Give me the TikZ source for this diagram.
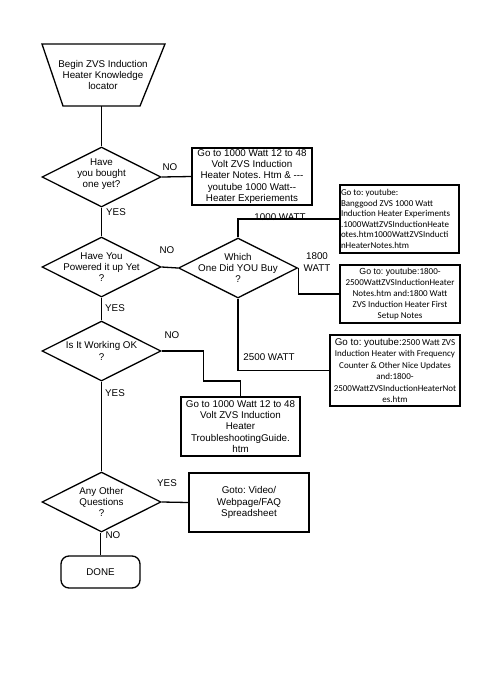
\documentclass[tikz,border=0pt]{standalone}
\usepackage{fontspec}
\setmainfont{Liberation Sans}
\newfontfamily\calfont{Carlito}
\usetikzlibrary{shapes.geometric}

\begin{document}
\frenchspacing
\begin{tikzpicture}[x=1pt, y=-1pt, line width=1.3pt,
  font=\fontsize{9.8}{11.2}\selectfont,
  decision/.style={diamond, draw, minimum width=119pt, minimum height=60pt, inner sep=0pt},
  qtext/.style={align=center, inner sep=0pt},
  infobox/.style={rectangle, draw, align=center, inner sep=1pt},
  lbl/.style={inner sep=0pt}]

\useasboundingbox[fill=white] (0,0) rectangle (500,688);

% start
\draw (42,44) -- (165,44) -- (140,106) -- (63,106) -- cycle;
\node[qtext] (start) at (103,75) {Begin ZVS Induction\\Heater Knowledge\\locator};
\coordinate (startb) at (101.5,106);

% questions
\node[decision, label={[qtext, yshift=3pt]center:Have\\you bought\\one yet?}] (q1) at (101.5,177) {};
\node[decision, label={[qtext]center:Have You\\Powered it up Yet\\?}] (q2) at (101.5,267) {};
\node[decision, label={[qtext]center:Which\\One Did YOU Buy\\?}] (q3) at (238,268) {};
\node[decision, label={[qtext]center:Is It Working OK\\?}] (q4) at (101.5,351) {};
\node[decision, label={[qtext]center:Any Other\\Questions\\?}] (q5) at (101.5,502) {};

% answers
\node[infobox, minimum width=120pt, minimum height=57pt] (notes) at (252,176.5)
{Go to 1000 Watt 12 to 48\\Volt ZVS Induction\\Heater Notes. Htm \& {-}{-}{-}\\youtube 1000 Watt{-}{-}\\Heater Experiements};

\node[infobox, align=flush left, text width=117pt, minimum height=68pt, inner xsep=1pt,
  font=\calfont\fontsize{9}{10.6}\selectfont] (yt1000) at (399.5,219)
{Go to: youtube:\\Banggood ZVS 1000 Watt\\Induction Heater Experiments\\.1000WattZVSInductionHeate\\otes.htm1000WattZVSInducti\\nHeaterNotes.htm};

\node[infobox, minimum width=120pt, minimum height=58pt,
  font=\calfont\fontsize{9}{11}\selectfont] (yt1800) at (400,294)
{{\rmfamily\fontsize{8.8}{11}\selectfont Go to: youtube:}1800-\\2500WattZVSInductionHeater\\Notes.htm and:1800 Watt\\ZVS Induction Heater First\\Setup Notes};

\node[infobox, minimum width=130pt, minimum height=71pt,
  font=\calfont\fontsize{9}{11.4}\selectfont] (yt2500) at (395,370.5)
{{\rmfamily\fontsize{9.8}{11.4}\selectfont Go to: youtube:}2500 Watt ZVS\\Induction Heater with Frequency\\Counter \& Other Nice Updates\\and:1800-\\2500WattZVSInductionHeaterNot\\es.htm};

\node[infobox, minimum width=119pt, minimum height=59pt] (trouble) at (240.5,426.5)
{Go to 1000 Watt 12 to 48\\Volt ZVS Induction\\Heater\\TroubleshootingGuide.\\htm};

\node[infobox, minimum width=120pt, minimum height=59pt] (faq) at (249,502.5)
{Goto: Video/\\Webpage/FAQ\\Spreadsheet};

\node[infobox, rounded corners=8pt, minimum width=79pt, minimum height=32pt] (done) at (100.5,572) {DONE};

% connectors
\draw (startb) -- (q1.north);
\draw (q1.east) -- (notes.west);
\draw (q1.south) -- (q2.north);
\draw (q2.east) -- (q3.west);
\draw (q3.north) |- (yt1000.west);
\draw (q3.east) |- (yt1800.west);
\draw (q3.south) |- (yt2500.west);
\draw (q2.south) -- (q4.north);
\draw (q4.east) -| ++(42,30) -| (trouble.north);
\draw (q4.south) -- (q5.north);
\draw (q5.east) -- (faq.west);
\draw (done.north |- q5.south) -- (done.north);

% answer labels
\node[lbl] (no1) at (170,167) {NO};
\node[lbl] (yes1) at (116,212) {YES};
\node[lbl] (no2) at (167,250) {NO};
\node[lbl, anchor=south] (w1000) at (280,221) {1000 WATT};
\node[lbl, align=center] (w1800) at (317,262) {1800\\WATT};
\node[lbl] (w2500) at (269,357) {2500 WATT};
\node[lbl] (yes2) at (115,308) {YES};
\node[lbl] (no3) at (172,335) {NO};
\node[lbl] (yes3) at (115,393) {YES};
\node[lbl] (yes4) at (167,483) {YES};
\node[lbl] (no4) at (113,535) {NO};

\end{tikzpicture}
\end{document}
